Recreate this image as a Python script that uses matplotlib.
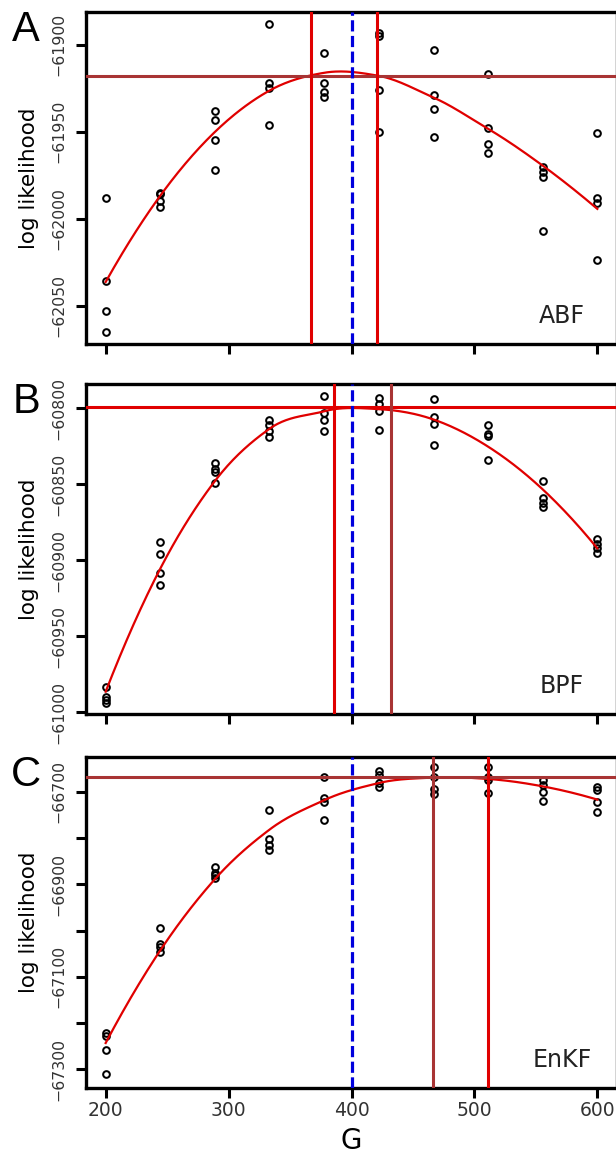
import numpy as np
from matplotlib import pyplot as plt

# profile over G, 4 replicate log likelihood estimates per value
G_VALUES = [200, 244, 289, 333, 378, 422, 467, 511, 556, 600]

ABF_LL = [
    [-61988, -62036, -62053, -62065],
    [-61985, -61986, -61990, -61993],
    [-61938, -61943, -61955, -61972],
    [-61888, -61922, -61925, -61946],
    [-61905, -61922, -61927, -61930],
    [-61893, -61895, -61926, -61950],
    [-61903, -61929, -61937, -61953],
    [-61917, -61948, -61957, -61962],
    [-61970, -61973, -61976, -62007],
    [-61951, -61988, -61991, -62024],
]
BPF_LL = [
    [-60983, -60990, -60992, -60994],
    [-60888, -60896, -60908, -60916],
    [-60836, -60840, -60842, -60849],
    [-60808, -60811, -60815, -60819],
    [-60792, -60803, -60808, -60815],
    [-60793, -60797, -60802, -60814],
    [-60794, -60806, -60810, -60824],
    [-60811, -60817, -60818, -60834],
    [-60848, -60859, -60862, -60865],
    [-60886, -60889, -60892, -60895],
]
ENKF_LL = [
    [-67222, -67228, -67259, -67310],
    [-66995, -67029, -67035, -67046],
    [-66863, -66875, -66880, -66887],
    [-66740, -66801, -66815, -66826],
    [-66668, -66714, -66722, -66760],
    [-66655, -66664, -66681, -66689],
    [-66647, -66668, -66693, -66704],
    [-66647, -66668, -66675, -66702],
    [-66675, -66686, -66700, -66720],
    [-66689, -66696, -66722, -66743],
]

METHODS = ['ABF', 'BPF', 'EnKF']
LETTERS = ['A', 'B', 'C']
CI_LOWER = [367, 386, 466]
CI_UPPER = [421, 432, 511]
CUTOFF = [-61918, -60799, -66668]
TRUE_G = 400

Y_TICKS = [
    [-61900, -61950, -62000, -62050],
    [-60800, -60850, -60900, -60950, -61000],
    [-66700, -66800, -66900, -67000, -67100, -67200, -67300],
]
Y_TICK_LABELS = [
    ['\u221261900', '\u221261950', '\u221262000', '\u221262050'],
    ['\u221260800', '\u221260850', '\u221260900', '\u221260950', '\u221261000'],
    ['\u221266700', '', '\u221266900', '', '\u221267100', '', '\u221267300'],
]
Y_LIMS = [(-62072, -61881), (-61001, -60784), (-67341, -66624)]
X_TICKS = [200, 300, 400, 500, 600]

RED = '#e00000'
DARK = '#a83434'
LINE_COLORS = [  # horizontal, lower, upper
    (DARK, RED, RED),
    (RED, RED, DARK),
    (DARK, DARK, RED),
]

W, H = 616, 1157
BOXES = [(11.7, 344.0), (384.0, 714.0), (756.7, 1088.3)]  # top, bottom in px


def local_fit(x, y, x0, span=0.75):
    # tricube weighted local quadratic (R loess), returns value and slope at x0
    n = len(x)
    q = int(np.floor(n * span))
    d = np.abs(x - x0)
    h = np.sort(d)[q - 1] * 1.0001
    w = np.clip(1 - (d / h) ** 3, 0, None) ** 3
    X = np.vstack([np.ones(n), x - x0, (x - x0) ** 2]).T
    sw = np.sqrt(w)
    beta = np.linalg.lstsq(X * sw[:, None], y * sw, rcond=None)[0]
    return beta[0], beta[1]


def loess_curve(x, y, verts, npts=40):
    # fit at vertices, cubic hermite in between (surface = "interpolate")
    fits = [local_fit(x, y, v) for v in verts]
    xs, ys = [], []
    for k in range(len(verts) - 1):
        v0, v1 = verts[k], verts[k + 1]
        (f0, d0), (f1, d1) = fits[k], fits[k + 1]
        hh = v1 - v0
        t = np.linspace(0, 1, npts)
        f = ((2 * t**3 - 3 * t**2 + 1) * f0 + (t**3 - 2 * t**2 + t) * hh * d0
             + (-2 * t**3 + 3 * t**2) * f1 + (t**3 - t**2) * hh * d1)
        xs.append(v0 + t * hh)
        ys.append(f)
    return np.concatenate(xs), np.concatenate(ys)


fig = plt.figure(figsize=(W / 100, H / 100), dpi=100)

for i, ll in enumerate([ABF_LL, BPF_LL, ENKF_LL]):
    top, bot = BOXES[i]
    ax = fig.add_axes([86 / W, 1 - bot / H, (617 - 86) / W, (bot - top) / H])

    gx = np.repeat(G_VALUES, 4).astype(float)
    gy = np.array(ll, dtype=float).ravel()
    ax.plot(gx, gy, 'o', mfc='none', mec='black', ms=4.8, mew=1.45, zorder=3)

    cx, cy = loess_curve(gx, gy, np.array(G_VALUES, dtype=float))
    ax.plot(cx, cy, color=RED, lw=1.6, zorder=4)

    hcol, lcol, ucol = LINE_COLORS[i]
    ax.axhline(CUTOFF[i], color=hcol, lw=2.2, zorder=5)
    ax.axvline(CI_LOWER[i], color=lcol, lw=2.2, zorder=5)
    ax.axvline(CI_UPPER[i], color=ucol, lw=2.2, zorder=5)
    ax.axvline(TRUE_G, color='#0000dd', lw=2.3, dashes=(3.5, 1.4), zorder=6)

    ax.set_xlim(184, 616)
    ax.set_ylim(*Y_LIMS[i])
    ax.set_xticks(X_TICKS)
    ax.set_yticks(Y_TICKS[i])
    ax.set_yticklabels(Y_TICK_LABELS[i], rotation=90, va='center',
                       family='DejaVu Sans', fontsize=11.3, color='#333333')
    ax.tick_params(width=2.2, length=7.5, color='black')
    ax.tick_params(axis='y', pad=7)
    if i == 2:
        ax.set_xticklabels([str(t) for t in X_TICKS], family='Liberation Sans Narrow',
                           fontsize=13.5, color='#333333')
        ax.tick_params(axis='x', pad=2)
        ax.set_xlabel('G', family='Liberation Sans Narrow', fontsize=20)
        ax.xaxis.set_label_coords(0.5, -0.118)
    else:
        ax.set_xticklabels([])
    for sp in ax.spines.values():
        sp.set_linewidth(2.4)

    ax.set_ylabel('log likelihood', family='DejaVu Sans', fontsize=15.5)
    ax.yaxis.set_label_coords((39 - 86) / (617 - 86), 0.5)

    ax.text(0.896, 0.085, METHODS[i], transform=ax.transAxes, ha='center',
            va='center', family='Liberation Sans Narrow', fontsize=17, color='#222222')
    fig.text(26 / W, 1 - (top + 18) / H, LETTERS[i], ha='center', va='center',
             family='Liberation Sans', fontsize=30)

fig.savefig('out.png', dpi=100)
